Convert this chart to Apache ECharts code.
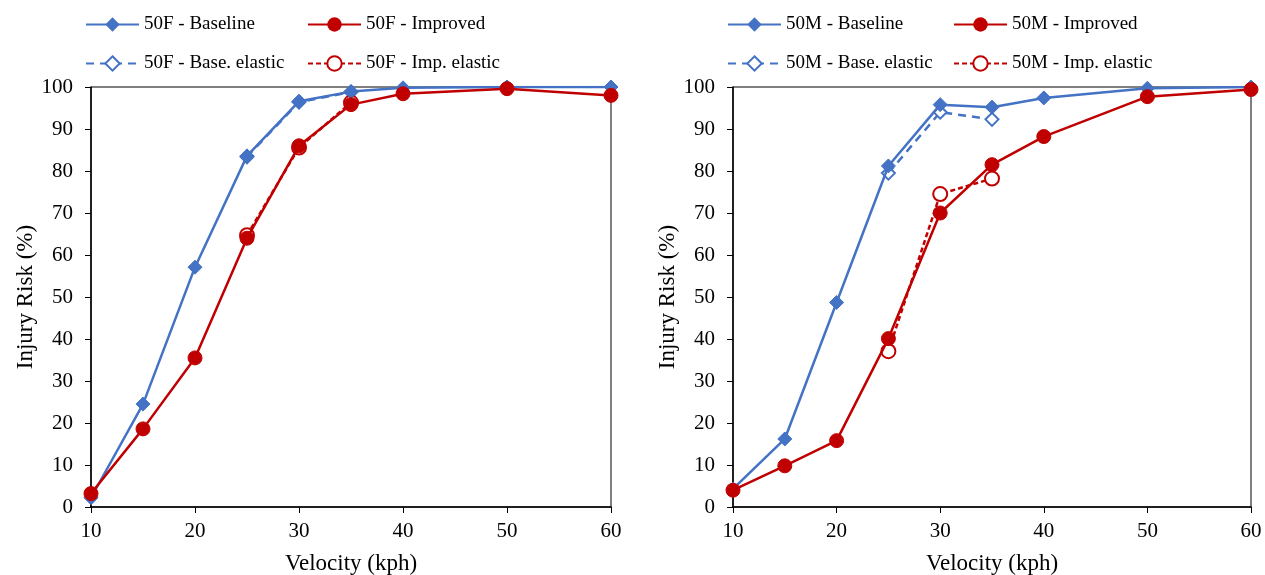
<!DOCTYPE html>
<html>
<head>
<meta charset="utf-8">
<script src="https://cdn.jsdelivr.net/npm/echarts@6/dist/echarts.min.js"></script>
<style>
  html, body { margin: 0; padding: 0; background: #fff; }
  #chart { width: 1265px; height: 575px; }
</style>
</head>
<body>
<div id="chart"></div>
<script>
// 速度 (kph)
const velocity = [10, 15, 20, 25, 30, 35, 40, 50, 60];
const elasticVelocity = [25, 30, 35];

// 50F
const f50Baseline = [2.2, 24.5, 57.1, 83.6, 96.6, 98.9, 99.8, 100, 100];
const f50Improved = [3.2, 18.6, 35.5, 64.0, 86.0, 95.8, 98.4, 99.6, 98.0];
const f50BaseElastic = [83.4, 96.4, 98.8];
const f50ImpElastic = [64.7, 85.6, 96.3];

// 50M
const m50Baseline = [4.3, 16.2, 48.7, 81.2, 95.8, 95.2, 97.4, 99.7, 100];
const m50Improved = [4.0, 9.8, 15.8, 40.1, 70.0, 81.5, 88.2, 97.7, 99.4];
const m50BaseElastic = [79.5, 94.0, 92.3];
const m50ImpElastic = [37.1, 74.5, 78.2];

const yTicks = [0, 10, 20, 30, 40, 50, 60, 70, 80, 90, 100];

const BLUE = '#4472C4';
const RED = '#C00000';
const FONT = 'Liberation Serif';

const pairs = (xs, ys) => xs.map((x, i) => [x, ys[i]]);

const makeSeries = (name, idx, xs, ys, color, symbol, size, dash) => ({
    name,
    type: 'line',
    xAxisIndex: idx,
    yAxisIndex: idx,
    data: pairs(xs, ys),
    symbol,
    symbolSize: size,
    showAllSymbol: true,
    color,
    // elastic 曲线画在下面
    z: dash ? 1 : 3,
    lineStyle: { color, width: 2.5, type: dash || 'solid' },
    itemStyle: symbol.startsWith('empty')
        ? { color, borderColor: color, borderWidth: 2.2 }
        : { color, borderColor: color },
    animation: false
});

// 图例，每项单独定位
const makeLegend = (name, left, top) => ({
    data: [name],
    left,
    top,
    itemWidth: 53,
    itemHeight: 18,
    itemGap: 0,
    padding: 0,
    textStyle: { fontFamily: FONT, fontSize: 19, color: '#000' },
    selectedMode: false
});

const makeX = (idx) => ({
    type: 'value',
    gridIndex: idx,
    min: 10,
    max: 60,
    interval: 10,
    name: 'Velocity (kph)',
    nameLocation: 'middle',
    nameGap: 45,
    nameTextStyle: { fontFamily: FONT, fontSize: 23, color: '#000' },
    axisLine: { lineStyle: { color: '#000', width: 1.5 } },
    axisTick: { show: true, length: 6, lineStyle: { color: '#000' } },
    axisLabel: { fontFamily: FONT, fontSize: 21, color: '#000', margin: 14 },
    splitLine: { show: false }
});

const makeY = (idx) => ({
    type: 'value',
    gridIndex: idx,
    min: yTicks[0],
    max: yTicks[yTicks.length - 1],
    interval: 10,
    name: 'Injury Risk (%)',
    nameLocation: 'middle',
    nameGap: 51,
    nameTextStyle: { fontFamily: FONT, fontSize: 23, color: '#000' },
    axisLine: { show: true, lineStyle: { color: '#000', width: 1.5 } },
    axisTick: { show: true, length: 6, lineStyle: { color: '#000' } },
    axisLabel: { fontFamily: FONT, fontSize: 21, color: '#000', margin: 18 },
    splitLine: { show: false }
});

const makeGrid = (left, width) => ({
    left,
    top: 87,
    width,
    height: 420,
    show: true,
    borderColor: '#000',
    borderWidth: 1,
    containLabel: false,
    outerBoundsMode: 'none'
});

const option = {
    backgroundColor: '#fff',
    animation: false,
    legend: [
        makeLegend('50F - Baseline', 85, 15),
        makeLegend('50F - Improved', 307, 15),
        makeLegend('50F - Base. elastic', 85, 54),
        makeLegend('50F - Imp. elastic', 307, 54),
        makeLegend('50M - Baseline', 727, 15),
        makeLegend('50M - Improved', 953, 15),
        makeLegend('50M - Base. elastic', 727, 54),
        makeLegend('50M - Imp. elastic', 953, 54)
    ],
    grid: [makeGrid(91, 520), makeGrid(733, 518)],
    xAxis: [makeX(0), makeX(1)],
    yAxis: [makeY(0), makeY(1)],
    series: [
        makeSeries('50F - Baseline', 0, velocity, f50Baseline, BLUE, 'diamond', 14),
        makeSeries('50F - Improved', 0, velocity, f50Improved, RED, 'circle', 14),
        makeSeries('50F - Base. elastic', 0, elasticVelocity, f50BaseElastic, BLUE, 'emptyDiamond', 13, [8, 6]),
        makeSeries('50F - Imp. elastic', 0, elasticVelocity, f50ImpElastic, RED, 'emptyCircle', 14, [5, 3]),
        makeSeries('50M - Baseline', 1, velocity, m50Baseline, BLUE, 'diamond', 14),
        makeSeries('50M - Improved', 1, velocity, m50Improved, RED, 'circle', 14),
        makeSeries('50M - Base. elastic', 1, elasticVelocity, m50BaseElastic, BLUE, 'emptyDiamond', 13, [8, 6]),
        makeSeries('50M - Imp. elastic', 1, elasticVelocity, m50ImpElastic, RED, 'emptyCircle', 14, [5, 3])
    ]
};

const myChart = echarts.init(document.getElementById('chart'));
myChart.setOption(option);
</script>
</body>
</html>
